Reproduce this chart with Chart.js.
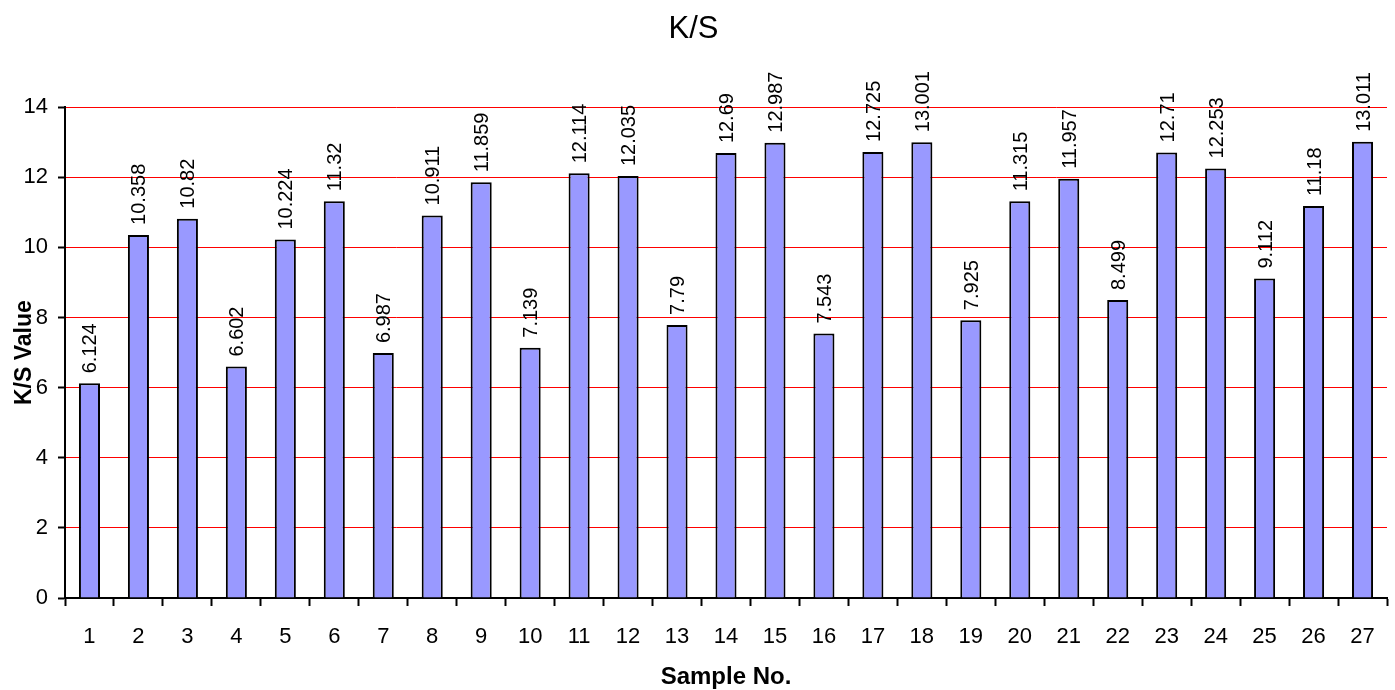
<!DOCTYPE html>
<html>
<head>
<meta charset="utf-8">
<script src="https://cdn.jsdelivr.net/npm/chart.js@4/dist/chart.umd.min.js"></script>
<style>
html,body{margin:0;padding:0;background:#fff;}
#wrap{width:1395px;height:690px;position:relative;}
</style>
</head>
<body>
<div id="wrap"><canvas id="c" width="1395" height="690"></canvas></div>
<script>
const categories = ["1","2","3","4","5","6","7","8","9","10","11","12","13","14","15","16","17","18","19","20","21","22","23","24","25","26","27"];
const ksValues = [6.124,10.358,10.82,6.602,10.224,11.32,6.987,10.911,11.859,7.139,12.114,12.035,7.79,12.69,12.987,7.543,12.725,13.001,7.925,11.315,11.957,8.499,12.71,12.253,9.112,11.18,13.011];
const ksLabels = ["6.124","10.358","10.82","6.602","10.224","11.32","6.987","10.911","11.859","7.139","12.114","12.035","7.79","12.69","12.987","7.543","12.725","13.001","7.925","11.315","11.957","8.499","12.71","12.253","9.112","11.18","13.011"];
const yTicks = [0,2,4,6,8,10,12,14];

const FONT = "Arial, 'Liberation Sans', Helvetica, sans-serif";

const labelPlugin = {
  id: 'barLabels',
  afterDatasetsDraw(chart) {
    const ctx = chart.ctx;
    const meta = chart.getDatasetMeta(0);
    ctx.save();
    ctx.font = "20px " + FONT;
    ctx.fillStyle = "#000";
    ctx.textAlign = "left";
    ctx.textBaseline = "middle";
    meta.data.forEach((bar, i) => {
      ctx.save();
      ctx.translate(bar.x + 1.5, bar.y - 10);
      ctx.rotate(-Math.PI / 2);
      ctx.fillText(ksLabels[i], 0, 0);
      ctx.restore();
    });
    ctx.restore();
  }
};

new Chart(document.getElementById('c'), {
  type: 'bar',
  data: {
    labels: categories,
    datasets: [{
      data: ksValues,
      backgroundColor: '#9999FF',
      borderColor: '#000000',
      borderWidth: 2,
      borderSkipped: 'bottom',
      barPercentage: 0.43,
      categoryPercentage: 1.0
    }]
  },
  options: {
    responsive: false,
    animation: false,
    devicePixelRatio: 1,
    layout: { padding: { left: 0, right: 8, top: 0, bottom: 0 } },
    plugins: {
      legend: { display: false },
      tooltip: { enabled: false },
      title: {
        display: true,
        text: 'K/S',
        color: '#000',
        font: { family: FONT, size: 31, weight: 'normal' },
        padding: { top: 11, bottom: 59 }
      }
    },
    scales: {
      x: {
        offset: true,
        afterFit(axis) { axis.height = 92; },
        grid: {
          offset: true,
          drawOnChartArea: false,
          drawTicks: true,
          tickLength: 8,
          tickColor: '#000',
          tickWidth: 2
        },
        border: { color: '#000', width: 2 },
        ticks: {
          color: '#000',
          font: { family: FONT, size: 22 },
          padding: 18,
          maxRotation: 0,
          autoSkip: false
        },
        title: {
          display: true,
          text: 'Sample No.',
          color: '#000',
          font: { family: FONT, size: 24, weight: 'bold' },
          padding: { top: 0, bottom: -2 }
        }
      },
      y: {
        min: 0,
        max: 14,
        afterFit(axis) { axis.width = 65; },
        afterBuildTicks(axis) { axis.ticks = yTicks.map(v => ({ value: v })); },
        grid: {
          color: '#FF0000',
          lineWidth: 1,
          drawTicks: true,
          tickLength: 7,
          tickColor: '#000',
          tickWidth: 2
        },
        border: { color: '#000', width: 2 },
        ticks: {
          color: '#000',
          font: { family: FONT, size: 22 },
          padding: 10
        },
        title: {
          display: true,
          text: 'K/S Value',
          color: '#000',
          font: { family: FONT, size: 23, weight: 'bold' },
          padding: { top: 11, bottom: 0 }
        }
      }
    }
  },
  plugins: [labelPlugin]
});
</script>
</body>
</html>
